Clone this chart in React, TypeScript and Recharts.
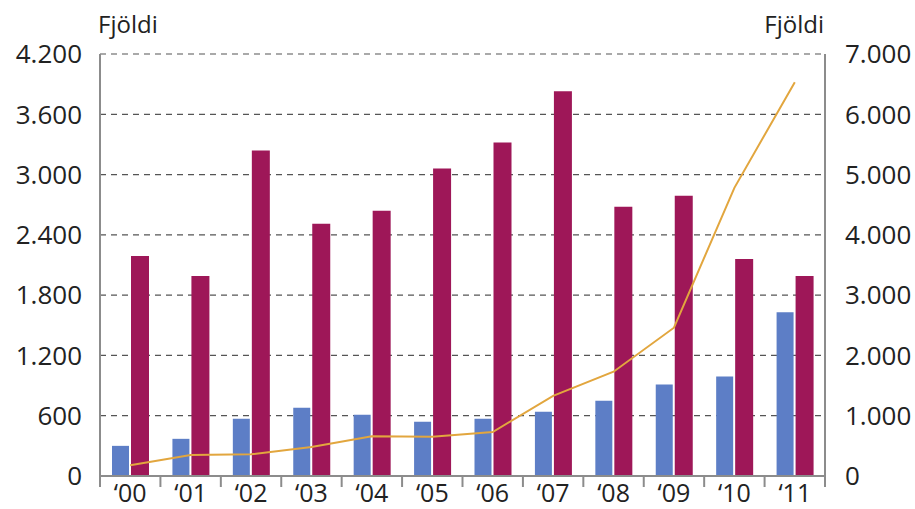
import React from "react";
import { ComposedChart, Bar, Line, XAxis, YAxis, CartesianGrid } from "recharts";

const years = ["‘00", "‘01", "‘02", "‘03", "‘04", "‘05", "‘06", "‘07", "‘08", "‘09", "‘10", "‘11"];
const blueValues = [300, 370, 570, 680, 610, 540, 570, 640, 750, 910, 990, 1630];
const maroonValues = [2190, 1990, 3240, 2510, 2640, 3060, 3320, 3830, 2680, 2790, 2160, 1990];
const lineValues = [180, 350, 360, 480, 660, 650, 730, 1330, 1730, 2460, 4780, 6530];
const leftTicks = [0, 600, 1200, 1800, 2400, 3000, 3600, 4200];
const rightTicks = [0, 1000, 2000, 3000, 4000, 5000, 6000, 7000];
const axisTitle = "Fjöldi";

const data = years.map((y, i) => ({
  year: y,
  blue: blueValues[i],
  maroon: maroonValues[i],
  line: lineValues[i],
}));

const fmt = (n: number) => String(n).replace(/\B(?=(\d{3})+(?!\d))/g, ".");

const FONT = "'Open Sans', 'DejaVu Sans', sans-serif";
const AXIS = "#8c8c8c";

const XTick = (props: any) => {
  const { x, y, payload, index } = props;
  const half = payload && payload.offset ? payload.offset : 30.2;
  return (
    <g>
      <line x1={x - half} x2={x - half} y1={y} y2={y + 11} stroke={AXIS} strokeWidth={2} />
      {index === years.length - 1 && (
        <line x1={x + half} x2={x + half} y1={y} y2={y + 11} stroke={AXIS} strokeWidth={2} />
      )}
      <text x={x} y={y + 26} textAnchor="middle" fontSize={25} fontFamily={FONT} fill="#222">
        {payload.value}
      </text>
    </g>
  );
};

export default function App() {
  return (
    <div style={{ position: "absolute", left: 0, top: 0, width: 915, height: 509, background: "#fff" }}>
      <ComposedChart
        width={915}
        height={509}
        data={data}
        margin={{ top: 54, right: 0, bottom: 0, left: 0 }}
        barCategoryGap={10}
        barGap={2}
      >
        <CartesianGrid
          yAxisId="left"
          vertical={false}
          stroke="#555"
          strokeDasharray="6 5"
          strokeWidth={1.2}
        />
        <XAxis
          dataKey="year"
          xAxisId="bottom"
          height={33}
          tickSize={0}
          tickMargin={0}
          tickLine={false}
          axisLine={{ stroke: AXIS, strokeWidth: 2 }}
          tick={<XTick />}
          interval={0}
        />
        <XAxis
          dataKey="year"
          xAxisId="top"
          orientation="top"
          height={0}
          tick={false}
          tickLine={false}
          axisLine={{ stroke: AXIS, strokeWidth: 2 }}
        />
        <YAxis
          yAxisId="left"
          width={100}
          domain={[0, 4200]}
          ticks={leftTicks}
          tickFormatter={fmt}
          tickLine={false}
          tickMargin={12}
          axisLine={{ stroke: AXIS, strokeWidth: 2 }}
          tick={{ fontSize: 26, fontFamily: FONT, fill: "#222" }}
          interval={0}
        />
        <YAxis
          yAxisId="right"
          orientation="right"
          width={90}
          domain={[0, 7000]}
          ticks={rightTicks}
          tickFormatter={fmt}
          tickLine={false}
          tickMargin={14}
          axisLine={{ stroke: AXIS, strokeWidth: 2 }}
          tick={{ fontSize: 26, fontFamily: FONT, fill: "#222", textAnchor: "start" }}
          interval={0}
        />
        <Bar dataKey="blue" yAxisId="left" xAxisId="bottom" fill="#5d7ec6" barSize={17} isAnimationActive={false} />
        <Bar dataKey="maroon" yAxisId="left" xAxisId="bottom" fill="#9e1758" barSize={18} isAnimationActive={false} />
        <Line
          dataKey="line"
          yAxisId="right"
          xAxisId="bottom"
          type="linear"
          stroke="#e2a63e"
          strokeWidth={2}
          dot={false}
          activeDot={false}
          isAnimationActive={false}
        />
      </ComposedChart>
      <svg
        width={915}
        height={509}
        style={{ position: "absolute", left: 0, top: 0, pointerEvents: "none" }}
      >
        <text x={98} y={33} fontSize={24} fontFamily={FONT} fill="#222">
          {axisTitle}
        </text>
        <text x={824} y={33} fontSize={24} fontFamily={FONT} fill="#222" textAnchor="end">
          {axisTitle}
        </text>
      </svg>
    </div>
  );
}
